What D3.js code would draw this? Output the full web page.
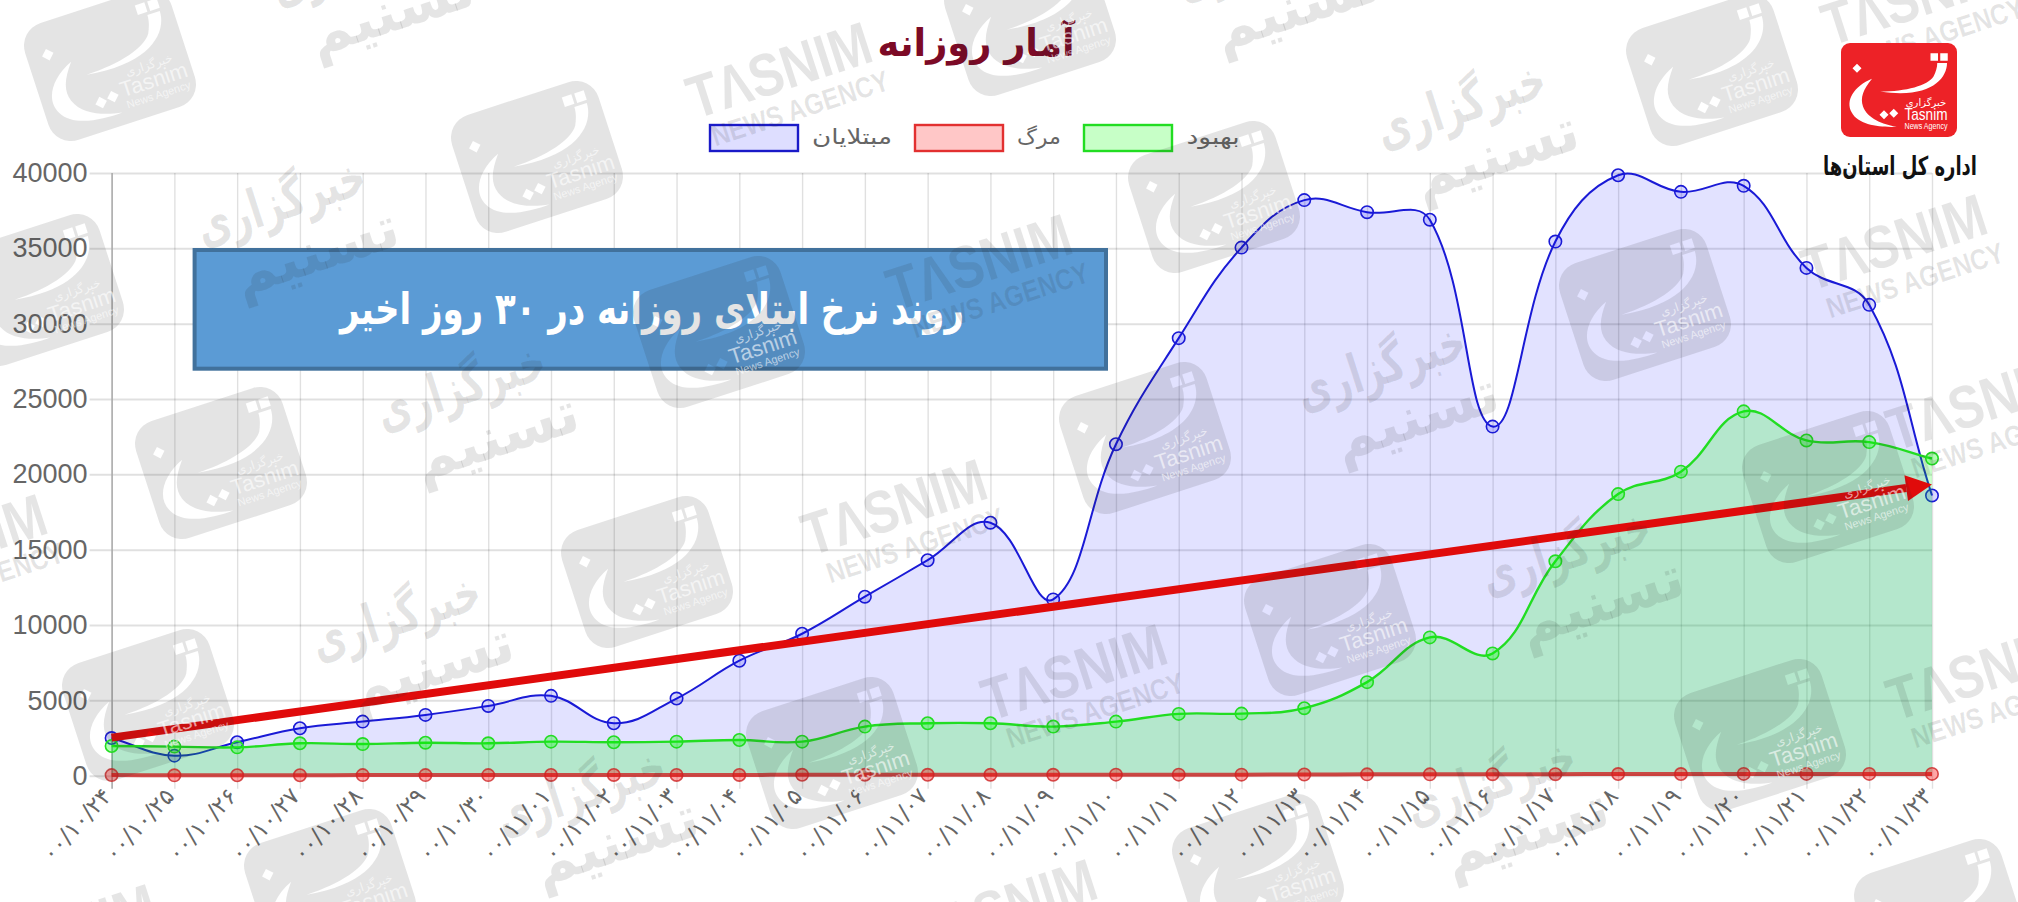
<!DOCTYPE html>
<html><head><meta charset="utf-8">
<script src="https://cdn.jsdelivr.net/npm/d3@7/dist/d3.min.js"></script>
<style>html,body{margin:0;padding:0;background:#fff}svg{display:block}</style></head>
<body><svg id="c" width="2018" height="902" direction="ltr"></svg>
<script>
// ---------- data ----------
const dates = ["۰۰/۱۰/۲۴","۰۰/۱۰/۲۵","۰۰/۱۰/۲۶","۰۰/۱۰/۲۷","۰۰/۱۰/۲۸","۰۰/۱۰/۲۹","۰۰/۱۰/۳۰",
"۰۰/۱۱/۰۱","۰۰/۱۱/۰۲","۰۰/۱۱/۰۳","۰۰/۱۱/۰۴","۰۰/۱۱/۰۵","۰۰/۱۱/۰۶","۰۰/۱۱/۰۷","۰۰/۱۱/۰۸","۰۰/۱۱/۰۹",
"۰۰/۱۱/۱۰","۰۰/۱۱/۱۱","۰۰/۱۱/۱۲","۰۰/۱۱/۱۳","۰۰/۱۱/۱۴","۰۰/۱۱/۱۵","۰۰/۱۱/۱۶","۰۰/۱۱/۱۷","۰۰/۱۱/۱۸",
"۰۰/۱۱/۱۹","۰۰/۱۱/۲۰","۰۰/۱۱/۲۱","۰۰/۱۱/۲۲","۰۰/۱۱/۲۳"];
const infected = [2500,1330,2220,3150,3590,4035,4630,5300,3480,5120,7630,9420,11880,14300,16790,11700,22000,29040,35050,38200,37400,36900,23170,35450,39850,38750,39150,33700,31250,18600];
const recovered = [1970,1930,1880,2150,2100,2190,2150,2260,2220,2260,2370,2260,3260,3480,3480,3260,3590,4100,4120,4480,6210,9180,8115,14230,18690,20180,24180,22250,22140,21050];
const deaths = [40,25,30,30,40,40,40,50,50,50,50,60,60,60,60,60,70,70,70,80,90,90,100,100,110,110,120,120,120,120];
const yTicks = [0,5000,10000,15000,20000,25000,30000,35000,40000];
const trendEnds = [2525,19330];
const titleText = "آمار روزانه";
const boxText = "روند نرخ ابتلای روزانه در ۳۰ روز اخیر";
const orgText = "اداره کل استان‌ها";
const seriesNames = ["مبتلایان","مرگ","بهبود"];
// watermark placement (centres, page pixels)
const wmTiles = [[110,65],[537,157],[1030,20],[1712,70],[38,290],[719,332],[1214,197],[1645,305],[221,463],[1145,438],[647,572],[1330,620],[1828,487],[148,705],[832,753],[1760,735],[330,885],[1258,870],[1940,915]];
const wmFa = [[365,-10],[290,230],[470,415],[405,645],[590,820],[1270,-15],[1470,133],[1390,395],[1575,580],[1500,810]];
const wmEn = [[785,88],[985,280],[900,525],[1080,690],[1900,260],[1985,690],[1920,15],[1985,420],[-40,560],[1010,925],[70,950]];

// ---------- scales ----------
const x = d3.scalePoint().domain(d3.range(dates.length)).range([111.6,1932]);
const y = d3.scaleLinear().domain([0,40000]).range([775.7,173]);
const svg = d3.select("#c");
const AR = "'DejaVu Sans','Noto Sans',sans-serif";

// Chart.js style bezier spline (tension .4) as a d3 curve
function chartSpline(ctx){
  let pts=[], line=NaN;
  return {
    areaStart(){line=0}, areaEnd(){line=NaN},
    lineStart(){pts=[]},
    point(a,b){pts.push([+a,+b])},
    lineEnd(){
      const t=.4,n=pts.length,cp=pts.map((c,i)=>{
        const p=pts[Math.max(i-1,0)],q=pts[Math.min(i+1,n-1)];
        const d1=Math.hypot(c[0]-p[0],c[1]-p[1]),d2=Math.hypot(q[0]-c[0],q[1]-c[1]),s=(d1+d2)||1;
        const fa=t*d1/s,fb=t*d2/s;
        return {a:[c[0]-fa*(q[0]-p[0]),c[1]-fa*(q[1]-p[1])],b:[c[0]+fb*(q[0]-p[0]),c[1]+fb*(q[1]-p[1])]};
      });
      if(line===1) ctx.lineTo(pts[0][0],pts[0][1]); else ctx.moveTo(pts[0][0],pts[0][1]);
      for(let i=1;i<n;i++) ctx.bezierCurveTo(cp[i-1].b[0],cp[i-1].b[1],cp[i].a[0],cp[i].a[1],pts[i][0],pts[i][1]);
      if(line===1) ctx.closePath();
      if(line===0) line=1;
    }
  };
}

// ---------- grid + axes ----------
const gy = svg.append("g").attr("transform","translate(111.6,0)")
  .call(d3.axisLeft(y).tickValues(yTicks).tickSizeInner(-(1932-111.6)).tickSizeOuter(0).tickPadding(24).tickFormat(d3.format("d")));
gy.select(".domain").remove();
gy.selectAll("line").attr("x1",-22).attr("stroke","rgba(0,0,0,.12)").attr("stroke-width",2);
gy.selectAll("text").attr("font-family","'Liberation Sans',sans-serif").attr("font-size",27).attr("fill","#666");

const gx = svg.append("g").attr("transform","translate(0,775.7)")
  .call(d3.axisBottom(x).tickSizeInner(-(775.7-173)).tickSizeOuter(0).tickFormat(i=>dates[i]));
gx.select(".domain").remove();
gx.selectAll("line").attr("y1",13).attr("stroke",(d,i)=>i?"rgba(0,0,0,.12)":"#aaa").attr("stroke-width",(d,i)=>i?1.4:1.6);
gx.selectAll("text").attr("font-family",AR).attr("font-size",23).attr("letter-spacing",1.6).attr("fill","#666")
  .attr("text-anchor","end").attr("dy",0).attr("y",0).attr("dominant-baseline","middle")
  .attr("transform","translate(-4,17) rotate(-47)");

// ---------- series (drawn back to front) ----------
const series = [
 {v:infected,c:"#1a1ad6",f:"rgba(0,0,255,.115)",m:"rgba(0,0,255,.15)",w:2},
 {v:recovered,c:"#22dd22",f:"rgba(0,255,0,.2)",m:"rgba(0,255,0,.3)",w:2.4},
 {v:deaths,c:"rgba(205,35,35,.8)",f:"rgba(255,0,0,.2)",m:"rgba(255,0,0,.35)",w:4}];
const area = d3.area().x((d,i)=>x(i)).y0(y(0)).y1(d=>y(d)).curve(chartSpline);
const line = d3.line().x((d,i)=>x(i)).y(d=>y(d)).curve(chartSpline);
series.forEach(s=>{
  const g=svg.append("g");
  g.append("path").attr("d",area(s.v)).attr("fill",s.f);
  g.append("path").attr("d",line(s.v)).attr("fill","none").attr("stroke",s.c).attr("stroke-width",s.w);
  g.selectAll("circle").data(s.v).join("circle").attr("cx",(d,i)=>x(i)).attr("cy",d=>y(d)).attr("r",6.2)
   .attr("fill",s.m).attr("stroke",s.c).attr("stroke-width",1.6);
});

// ---------- title + legend ----------
svg.append("text").attr("x",976).attr("y",56).attr("text-anchor","middle").attr("font-family",AR).attr("font-weight","bold")
  .attr("font-size",38).attr("fill","#7c0a26").attr("textLength",197).attr("lengthAdjust","spacingAndGlyphs").text(titleText);
const legend=[{n:seriesNames[0],bx:709,tx:852,tw:80,s:"#1a1ac8",f:"rgba(0,0,255,.13)"},
 {n:seriesNames[1],bx:914,tx:1039,tw:44,s:"#e23030",f:"rgba(255,0,0,.22)"},
 {n:seriesNames[2],bx:1083,tx:1213,tw:53,s:"#22dd22",f:"rgba(0,255,0,.22)"}];
legend.forEach(l=>{
  svg.append("rect").attr("x",l.bx+1).attr("y",125).attr("width",88).attr("height",26).attr("fill",l.f).attr("stroke",l.s).attr("stroke-width",2.4);
  svg.append("text").attr("x",l.tx).attr("y",144).attr("text-anchor","middle").attr("font-family",AR).attr("font-size",21).attr("fill","#666")
    .attr("textLength",l.tw).attr("lengthAdjust","spacingAndGlyphs").text(l.n);
});

// ---------- annotation box + trend arrow ----------
svg.append("rect").attr("x",194.6).attr("y",250).attr("width",911.4).attr("height",118.7).attr("fill","#5b9bd5").attr("stroke","#41719c").attr("stroke-width",4);
svg.append("text").attr("x",652).attr("y",324).attr("text-anchor","middle").attr("font-family",AR).attr("font-weight","bold")
  .attr("font-size",44).attr("fill","#fff").attr("textLength",624).attr("lengthAdjust","spacingAndGlyphs").text(boxText);

const ax=x(0),ay=y(trendEnds[0]),bx=x(dates.length-1),by=y(trendEnds[1]);
const L=Math.hypot(bx-ax,by-ay),ux=(bx-ax)/L,uy=(by-ay)/L,hb=26,hw=13;
const cx=bx-ux*hb,cy=by-uy*hb;
svg.append("line").attr("x1",ax).attr("y1",ay).attr("x2",cx).attr("y2",cy).attr("stroke","#e00b0b").attr("stroke-width",8);
svg.append("polygon").attr("fill","#e00b0b").attr("points",[[bx,by],[cx-uy*hw,cy+ux*hw],[cx+uy*hw,cy-ux*hw]].map(p=>p.join(",")).join(" "));

// ---------- watermarks ----------
const glyphMain="M64,-36C64,-14 40,12 -25,2C10,2 38,-6 46,-18C49,-24 51,-30 51,-36Z M-36,-15C-60,-5 -72,14 -63,30C-54,47 -25,50 -3,49C-22,46 -42,38 -48,22C-52,10 -48,0 -36,-15Z";
const glyphDots="M42,-49l10,0l0,10l-10,0Z M55,-49l10,0l0,10l-10,0Z M-62,-29l6,-6l6,6l-6,6Z M-26,33l6,-6l6,6l-6,6Z M-13,31l6,-6l6,6l-6,6Z";
const defs=svg.append("defs");
const mask=defs.append("mask").attr("id","wmMask").attr("maskUnits","userSpaceOnUse").attr("x",-90).attr("y",-75).attr("width",180).attr("height",150);
mask.append("rect").attr("x",-90).attr("y",-75).attr("width",180).attr("height",150).attr("fill","#fff");
mask.append("path").attr("d",glyphMain+glyphDots).attr("fill","#000");
const NARROW="'Liberation Sans Narrow','Liberation Sans',sans-serif";
const wm=svg.append("g").attr("pointer-events","none");
wmTiles.forEach(p=>{
  const g=wm.append("g").attr("transform",`translate(${p[0]},${p[1]}) rotate(-18)`);
  g.append("rect").attr("x",-77).attr("y",-61.5).attr("width",154).attr("height",123).attr("rx",24).attr("fill","rgba(40,40,40,.125)").attr("mask","url(#wmMask)");
  g.append("text").attr("x",37).attr("y",16).attr("text-anchor","middle").attr("font-family",AR).attr("font-size",12).attr("fill","rgba(255,255,255,.6)").text("خبرگزاری");
  g.append("text").attr("x",37).attr("y",35).attr("text-anchor","middle").attr("font-family",NARROW).attr("font-size",22).attr("fill","rgba(255,255,255,.6)").text("Tasnim");
  g.append("text").attr("x",37).attr("y",47).attr("text-anchor","middle").attr("font-family",NARROW).attr("font-size",11).attr("fill","rgba(255,255,255,.6)").text("News Agency");
});
wmFa.forEach(p=>{
  const g=wm.append("g").attr("transform",`translate(${p[0]},${p[1]}) rotate(-18)`).attr("fill","rgba(40,40,40,.12)").attr("font-family",AR).attr("font-weight","bold").attr("text-anchor","middle");
  g.append("text").attr("y",-12).attr("font-size",54).attr("textLength",175).attr("lengthAdjust","spacingAndGlyphs").text("خبرگزاری");
  g.append("text").attr("x",18).attr("y",48).attr("font-size",58).attr("textLength",170).attr("lengthAdjust","spacingAndGlyphs").text("تسنیم");
});
wmEn.forEach(p=>{
  const g=wm.append("g").attr("transform",`translate(${p[0]},${p[1]}) rotate(-18)`).attr("fill","rgba(40,40,40,.12)").attr("font-family",NARROW).attr("font-weight","bold").attr("text-anchor","middle");
  g.append("text").attr("y",2).attr("font-size",60).attr("textLength",190).attr("lengthAdjust","spacingAndGlyphs").text("TΛSNIM");
  g.append("text").attr("x",8).attr("y",34).attr("font-size",29).attr("textLength",185).attr("lengthAdjust","spacingAndGlyphs").text("NEWS AGENCY");
});

// ---------- publisher logo ----------
const logo=svg.append("g").attr("transform","translate(1899,90)");
logo.append("rect").attr("x",-58).attr("y",-47).attr("width",116).attr("height",94).attr("rx",9).attr("fill","#ed2227");
logo.append("path").attr("transform","scale(.75)").attr("d",glyphMain+glyphDots).attr("fill","#fff");
logo.append("text").attr("x",27).attr("y",16).attr("text-anchor","middle").attr("font-family",AR).attr("font-size",10).attr("fill","#fff").text("خبرگزاری");
logo.append("text").attr("x",27).attr("y",30).attr("text-anchor","middle").attr("font-family","'Liberation Sans',sans-serif").attr("font-size",17).attr("fill","#fff").attr("textLength",43).attr("lengthAdjust","spacingAndGlyphs").text("Tasnim");
logo.append("text").attr("x",27).attr("y",39).attr("text-anchor","middle").attr("font-family","'Liberation Sans',sans-serif").attr("font-size",8.5).attr("fill","#fff").attr("textLength",43).attr("lengthAdjust","spacingAndGlyphs").text("News Agency");
svg.append("text").attr("x",1900).attr("y",175).attr("text-anchor","middle").attr("font-family",AR).attr("font-weight","bold").attr("font-size",26).attr("fill","#111")
  .attr("textLength",154).attr("lengthAdjust","spacingAndGlyphs").text(orgText);
</script></body></html>
